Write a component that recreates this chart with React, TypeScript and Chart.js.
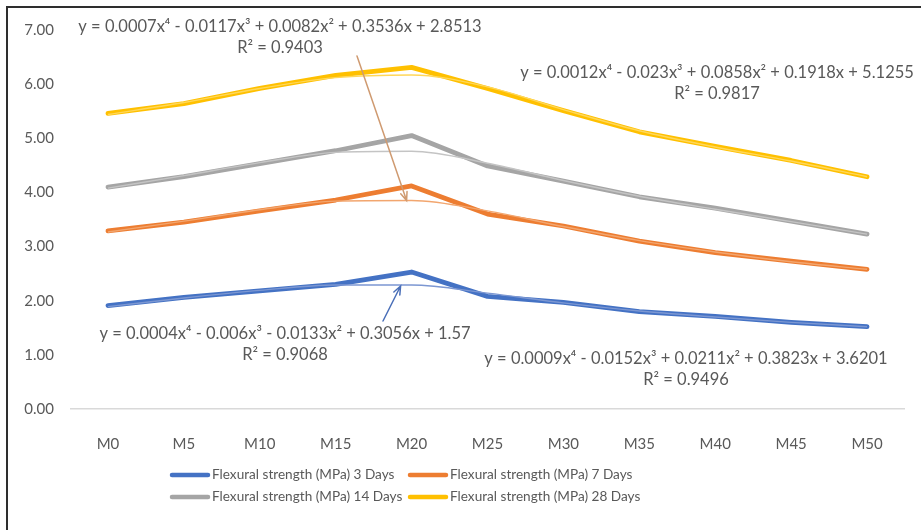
import React, { useEffect, useRef } from "react";
import { Chart, registerables } from "chart.js";

Chart.register(...registerables);

// Mix designations along the x axis
const categories = ["M0", "M5", "M10", "M15", "M20", "M25", "M30", "M35", "M40", "M45", "M50"];

// Flexural strength (MPa) by curing age
const days3 = [1.91, 2.06, 2.18, 2.3, 2.53, 2.08, 1.97, 1.8, 1.71, 1.6, 1.52];
const days7 = [3.29, 3.45, 3.66, 3.86, 4.12, 3.6, 3.38, 3.1, 2.89, 2.73, 2.58];
const days14 = [4.1, 4.29, 4.53, 4.77, 5.05, 4.49, 4.21, 3.92, 3.71, 3.47, 3.23];
const days28 = [5.46, 5.64, 5.92, 6.16, 6.31, 5.92, 5.51, 5.12, 4.85, 4.59, 4.29];

// Polynomial (order 4) trendline readings at each mix
const trend3 = [1.89, 2.05, 2.19, 2.29, 2.29, 2.14, 1.96, 1.81, 1.7, 1.6, 1.52];
const trend7 = [3.27, 3.47, 3.68, 3.84, 3.85, 3.66, 3.37, 3.11, 2.9, 2.72, 2.58];
const trend14 = [4.08, 4.31, 4.55, 4.74, 4.76, 4.54, 4.22, 3.93, 3.69, 3.46, 3.23];
const trend28 = [5.44, 5.66, 5.92, 6.12, 6.17, 5.95, 5.53, 5.14, 4.84, 4.58, 4.29];

const seriesLabels = [
  "Flexural strength (MPa) 3 Days",
  "Flexural strength (MPa) 7 Days",
  "Flexural strength (MPa) 14 Days",
  "Flexural strength (MPa) 28 Days",
];

const equations = [
  "y = 0.0004x\u2074 - 0.006x\u00b3 - 0.0133x\u00b2 + 0.3056x + 1.57",
  "y = 0.0007x\u2074 - 0.0117x\u00b3 + 0.0082x\u00b2 + 0.3536x + 2.8513",
  "y = 0.0009x\u2074 - 0.0152x\u00b3 + 0.0211x\u00b2 + 0.3823x + 3.6201",
  "y = 0.0012x\u2074 - 0.023x\u00b3 + 0.0858x\u00b2 + 0.1918x + 5.1255",
];
const rSquared = ["R\u00b2 = 0.9068", "R\u00b2 = 0.9403", "R\u00b2 = 0.9496", "R\u00b2 = 0.9817"];

const yTicks = [0, 1, 2, 3, 4, 5, 6, 7];

const COLORS = ["#4472C4", "#ED7D31", "#A5A5A5", "#FFC000"];
const TREND_COLORS = ["#7C97D2", "#F2A66F", "#C4C4C4", "#FFD75A"];
const TEXT = "#595959";
const FONT = "Lato, 'Open Sans', sans-serif";

function arrow(ctx: CanvasRenderingContext2D, x0: number, y0: number, x1: number, y1: number, color: string) {
  const ang = Math.atan2(y1 - y0, x1 - x0);
  const head = 9;
  const spread = 0.38;
  ctx.save();
  ctx.strokeStyle = color;
  ctx.lineWidth = 1.5;
  ctx.lineCap = "round";
  ctx.beginPath();
  ctx.moveTo(x0, y0);
  ctx.lineTo(x1, y1);
  ctx.moveTo(x1 - head * Math.cos(ang - spread), y1 - head * Math.sin(ang - spread));
  ctx.lineTo(x1, y1);
  ctx.lineTo(x1 - head * Math.cos(ang + spread), y1 - head * Math.sin(ang + spread));
  ctx.stroke();
  ctx.restore();
}

const framePlugin = {
  id: "frame",
  beforeDraw(chart: any) {
    const ctx = chart.ctx as CanvasRenderingContext2D;
    ctx.save();
    ctx.fillStyle = "#ffffff";
    ctx.fillRect(0, 0, chart.width, chart.height);
    ctx.strokeStyle = "#2e2e2e";
    ctx.lineWidth = 2;
    ctx.beginPath();
    ctx.moveTo(7, chart.height);
    ctx.lineTo(7, 7);
    ctx.lineTo(chart.width, 7);
    ctx.stroke();
    ctx.restore();
  },
};

const notesPlugin = {
  id: "notes",
  afterDraw(chart: any) {
    const ctx = chart.ctx as CanvasRenderingContext2D;
    const xs = chart.scales.x;
    const ys = chart.scales.y;
    ctx.save();
    ctx.fillStyle = TEXT;
    ctx.font = `16.5px ${FONT}`;
    ctx.textAlign = "center";
    ctx.textBaseline = "middle";

    // equation blocks: series index, centre x, first line y
    const blocks: [number, number, number][] = [
      [1, 280, 27],
      [3, 717, 73],
      [0, 285, 334],
      [2, 686, 359],
    ];
    blocks.forEach(([i, cx, y]) => {
      ctx.fillText(equations[i], cx, y);
      ctx.fillText(rSquared[i], cx, y + 21);
    });
    ctx.restore();

    // leader arrows to the trendlines near M20
    arrow(ctx, 357, 56, xs.getPixelForValue(4) - 5, ys.getPixelForValue(trend7[4]), "#CF9A70");
    arrow(ctx, 383, 321, xs.getPixelForValue(4) - 11, ys.getPixelForValue(trend3[4]) + 1, "#4A6FB8");

    // legend, two rows of two entries
    ctx.save();
    ctx.font = `13.6px ${FONT}`;
    ctx.fillStyle = TEXT;
    ctx.textBaseline = "middle";
    ctx.textAlign = "left";
    const cols = [172, 410];
    const rows = [475, 497];
    for (let i = 0; i < 4; i++) {
      const x = cols[i % 2];
      const y = rows[Math.floor(i / 2)];
      ctx.strokeStyle = COLORS[i];
      ctx.lineWidth = 4.5;
      ctx.lineCap = "round";
      ctx.beginPath();
      ctx.moveTo(x, y);
      ctx.lineTo(x + 36, y);
      ctx.stroke();
      ctx.fillText(seriesLabels[i], x + 40, y);
    }
    ctx.restore();
  },
};

export default function App() {
  const canvasRef = useRef<HTMLCanvasElement | null>(null);

  useEffect(() => {
    if (!canvasRef.current) return;
    const values = [days3, days7, days14, days28];
    const trends = [trend3, trend7, trend14, trend28];

    const dataSets: any[] = values.map((v, i) => ({
      label: seriesLabels[i],
      data: v,
      borderColor: COLORS[i],
      backgroundColor: COLORS[i],
      borderWidth: 4.8,
      pointRadius: 0,
      tension: 0,
      borderCapStyle: "round",
      borderJoinStyle: "round",
      order: 2,
    }));
    const trendSets: any[] = trends.map((v, i) => ({
      label: "Poly. (" + seriesLabels[i] + ")",
      data: v,
      borderColor: TREND_COLORS[i],
      borderWidth: 1.4,
      pointRadius: 0,
      cubicInterpolationMode: "monotone",
      order: 1,
    }));

    const chart = new Chart(canvasRef.current, {
      type: "line",
      data: { labels: categories, datasets: [...dataSets, ...trendSets] },
      options: {
        animation: false,
        responsive: false,
        layout: { padding: { left: 8, top: 30, right: 16, bottom: 78 } },
        plugins: {
          legend: { display: false },
          tooltip: { enabled: false },
        },
        scales: {
          x: {
            offset: true,
            grid: { display: false },
            border: { display: false },
            ticks: { color: TEXT, font: { family: FONT, size: 15 }, padding: 18 },
            afterFit: (s: any) => {
              s.height = 530 - 78 - 409;
            },
          },
          y: {
            min: 0,
            max: 7,
            afterBuildTicks: (s: any) => {
              s.ticks = yTicks.map((v) => ({ value: v }));
            },
            grid: {
              drawTicks: false,
              color: (c: any) => (c.tick && c.tick.value === 0 ? "#D9D9D9" : "rgba(0,0,0,0)"),
              lineWidth: 1.5,
            },
            border: { display: false },
            ticks: {
              color: TEXT,
              font: { family: FONT, size: 15 },
              padding: 16,
              callback: (v: any) => Number(v).toFixed(2),
            },
            afterFit: (s: any) => {
              s.width = 62;
            },
          },
        },
      },
      plugins: [framePlugin, notesPlugin],
    });
    return () => chart.destroy();
  }, []);

  return (
    <div style={{ position: "absolute", left: 0, top: 0, width: 921, height: 530, background: "#fff" }}>
      <canvas ref={canvasRef} width={921} height={530} style={{ width: 921, height: 530, display: "block" }} />
    </div>
  );
}
